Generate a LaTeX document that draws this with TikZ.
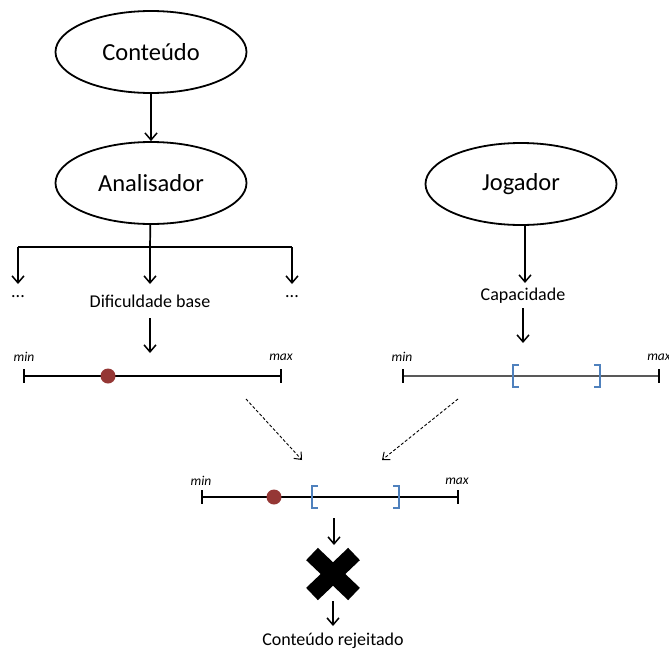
\documentclass[tikz,border=0pt]{standalone}
\usepackage{fontspec}
\setmainfont{Carlito}
\usetikzlibrary{arrows.meta,shapes.geometric,calc}
\definecolor{dotred}{HTML}{953735}
\definecolor{brblue}{HTML}{4F81BD}
\definecolor{axgray}{HTML}{595959}
\begin{document}
\begin{tikzpicture}[x=1pt,y=-1pt,
  oval/.style={ellipse,draw,line width=1.8pt,minimum width=191pt,minimum height=82pt,inner sep=0pt,font=\fontsize{24.5}{28}\selectfont},
  lbl/.style={inner sep=0pt,font=\fontsize{18}{21}\selectfont},
  endlbl/.style={inner sep=0pt,font=\fontsize{13.5}{16}\selectfont\itshape},
  arr/.style={-{Straight Barb[length=7pt,width=12pt,line width=1.5pt]},line width=1.7pt},
  darr/.style={-{Straight Barb[length=6pt,width=10pt,line width=1pt]},line width=0.9pt,dash pattern=on 3pt off 2pt},
  axis/.style={line width=1.1pt},
  bracket/.style={brblue,line width=1.1pt},
  pt/.style={circle,fill=dotred,minimum size=15pt,inner sep=0pt}]
\useasboundingbox (0,0) rectangle (669,651);

% source and analyser
\node[oval] (cont) at (151,52) {Conteúdo};
\node[oval] (ana) at (151,183) {Analisador};
\node[oval] (jog) at (521,184) {Jogador};
\draw[arr] (cont) -- (ana);

% branching of the analyser output
\coordinate (bM) at (150,247);
\coordinate (bL) at (18,247);
\coordinate (bR) at (292,247);
\coordinate (tL) at (18,284);
\coordinate (tM) at (150,284);
\coordinate (tR) at (292,284);
\draw[line width=1.7pt] (ana) -- (bM);
\draw[line width=1.7pt] (bL) -- (bR);
\draw[arr] (bL) -- (tL);
\draw[arr] (bM) -- (tM);
\draw[arr] (bR) -- (tR);
\node[lbl] (dL) at (18,297) {...};
\node[lbl] (dR) at (292,297) {...};
\node[lbl] (dif) at (150,301) {Dificuldade base};

% difficulty scale
\coordinate (a0) at (150,318);
\coordinate (a1) at (150,353);
\draw[arr] (a0) -- (a1);
\coordinate (s1l) at (24,376);
\coordinate (s1r) at (281,376);
\draw[axis] (s1l) -- (s1r);
\draw[axis] (24,369) -- (24,383) (281,369) -- (281,383);
\node[endlbl] (min1) at (24,357) {min};
\node[endlbl] (max1) at (281,357) {max};
\node[pt] (p1) at (108,376) {};

% player capacity
\node[lbl] (cap) at (523,296) {Capacidade};
\coordinate (j0) at (525,226);
\coordinate (j1) at (525,283);
\draw[arr] (j0) -- (j1);
\coordinate (c0) at (523,308);
\coordinate (c1) at (523,343);
\draw[arr] (c0) -- (c1);
\coordinate (s2l) at (403,376);
\coordinate (s2r) at (659,376);
\draw[axis,axgray] (s2l) -- (s2r);
\draw[axis,black] (403,369) -- (403,383) (659,369) -- (659,383);
\node[endlbl] (min2) at (402,357) {min};
\node[endlbl] (max2) at (659,357) {max};
\draw[bracket] (519,365) -- (513,365) -- (513,387) -- (519,387);
\draw[bracket] (594,365) -- (600,365) -- (600,387) -- (594,387);

% combination
\coordinate (e1) at (246,399);
\coordinate (e2) at (302,460);
\coordinate (f1) at (458,399);
\coordinate (f2) at (382,460);
\draw[darr] (e1) -- (e2);
\draw[darr] (f1) -- (f2);

\coordinate (s3l) at (202,497);
\coordinate (s3r) at (458,497);
\draw[axis] (s3l) -- (s3r);
\draw[axis] (202,490) -- (202,504) (458,490) -- (458,504);
\node[endlbl] (min3) at (201,481) {min};
\node[endlbl] (max3) at (457,481) {max};
\draw[bracket] (318,486) -- (312,486) -- (312,508) -- (318,508);
\draw[bracket] (393,486) -- (399,486) -- (399,508) -- (393,508);
\node[pt] (p3) at (274,497) {};

% rejection
\coordinate (r0) at (334,518);
\coordinate (r1) at (334,545);
\draw[arr,line width=1.2pt] (r0) -- (r1);
\coordinate (xc) at (333,574);
\draw[line width=17pt] ($(xc)+(-21,-20)$) -- ($(xc)+(21,20)$);
\draw[line width=17pt] ($(xc)+(21,-20)$) -- ($(xc)+(-21,20)$);
\coordinate (r2) at (333,601);
\coordinate (r3) at (333,626);
\draw[arr,line width=1.2pt] (r2) -- (r3);
\node[lbl] (rej) at (333,641) {Conteúdo rejeitado};
\end{tikzpicture}
\end{document}
